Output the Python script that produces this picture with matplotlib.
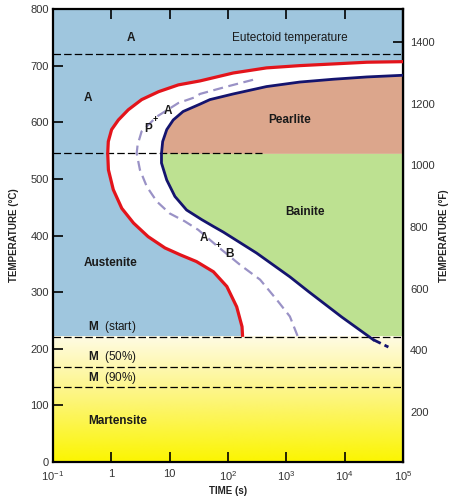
import numpy as np
import matplotlib
matplotlib.use('Agg')
import matplotlib.pyplot as plt
from matplotlib.colors import LinearSegmentedColormap
from matplotlib.ticker import FixedLocator, NullLocator

plt.rcParams['font.family'] = ['Liberation Sans', 'DejaVu Sans']
plt.rcParams['mathtext.fontset'] = 'custom'
plt.rcParams['mathtext.rm'] = 'Liberation Sans'
plt.rcParams['mathtext.bf'] = 'Liberation Sans:bold'

# === Datos (tiempo en s, temperatura en °C) ===
# curva de inicio (roja), de arriba-derecha hacia abajo
red_time = [1e5, 24000, 6460, 1700, 457, 123, 33.1, 14.1, 6.46, 3.31, 1.95,
            1.32, 1.01, 0.887, 0.867, 0.891, 1.08, 1.51, 2.40, 4.27, 8.32,
            15.1, 28.8, 56.2, 95.5, 141, 174, 178]
red_temp = [707, 706, 703, 700, 696, 687, 673, 666, 654, 640, 622,
            604, 587, 566, 545, 516, 481, 448, 422, 398, 378,
            366, 354, 336, 310, 274, 239, 221]

# curva de fin (azul marino)
navy_time = [1e5, 24000, 6460, 1700, 457, 123, 49, 33.1, 17.0, 11.5, 8.91,
             7.59, 7.24, 7.24, 8.91, 12.3, 19.5, 35.5, 56.2, 83.2, 309,
             1150, 2400, 8910, 30900, 56200]
navy_temp = [683, 680, 676, 671, 663, 650, 640, 632, 619, 604, 587,
             566, 545, 528, 498, 469, 445, 428, 416, 406, 369,
             327, 301, 256, 216, 203]

# curva 50% (lila, discontinua)
mid_time = [269, 95.5, 33.1, 26.9, 14.1, 6.03, 3.31, 2.82, 2.72, 3.09, 4.07,
            6.03, 10, 18.2, 30.9, 67.6, 162, 355, 692, 1150, 1580]
mid_temp = [675, 663, 650, 644, 634, 610, 584, 560, 545, 516, 486,
            460, 439, 425, 410, 380, 348, 322, 286, 257, 221]

eutectoid = 720
nose_temp = 545
ms_start = 221
ms_50 = 168
ms_90 = 132

x_ticks = [0.1, 1, 10, 100, 1e3, 1e4, 1e5]
x_labels = ['$10^{-1}$', '1', '10', '$10^{2}$', '$10^{3}$', '$10^{4}$', '$10^{5}$']
y_ticks = list(range(0, 801, 100))
f_ticks = [200, 400, 600, 800, 1000, 1200, 1400]
f_minor = [100, 300, 500, 700, 900, 1100, 1300]

# colores
c_blue = '#9fc6de'
c_pearl = '#dca68c'
c_bain = '#bde191'
c_red = '#e3141b'
c_navy = '#14146e'
c_mid = '#9a92c6'

fig = plt.figure(figsize=(4.51, 4.98), dpi=100)
ax = fig.add_axes([53/451, 36/498, 350/451, 453/498])
ax.set_xscale('log')
ax.set_facecolor(c_blue)

red_time = np.array(red_time); red_temp = np.array(red_temp)
navy_time = np.array(navy_time); navy_temp = np.array(navy_temp)
xmax = x_ticks[-1]

# regiones
ax.fill_betweenx(red_temp, red_time, xmax, color='white', lw=0, zorder=1)
up = navy_temp >= nose_temp
lo = navy_temp <= nose_temp
ax.fill_betweenx(navy_temp[up], navy_time[up], xmax, color=c_pearl, lw=0, zorder=1.1)
ax.fill_betweenx(navy_temp[lo], navy_time[lo], xmax, color=c_bain, lw=0, zorder=1.1)

# degradado martensita
cmap = LinearSegmentedColormap.from_list('mart', ['#fbf500', '#fdf57a', '#fffbe4'])
grad = np.linspace(0, 1, 256).reshape(-1, 1)
ax.imshow(grad, extent=[0, 1, 0, ms_start/800], transform=ax.transAxes,
          aspect='auto', origin='lower', cmap=cmap, zorder=1.5)

# curvas
ax.plot(red_time, red_temp, color=c_red, lw=2.3, zorder=4, solid_capstyle='butt',
        solid_joinstyle='round')
ax.plot(navy_time[:-1], navy_temp[:-1], color=c_navy, lw=2.0, zorder=4,
        solid_joinstyle='round')
ax.plot(navy_time[-2:], navy_temp[-2:], color=c_navy, lw=2.0, zorder=4,
        ls=(0, (3, 1.5)))
ax.plot(mid_time, mid_temp, color=c_mid, lw=1.6, ls=(0, (4.5, 2.5)), zorder=3.5)

# lineas horizontales
dash = (0, (6, 2.5))
ax.axhline(eutectoid, color='black', lw=0.9, ls=dash, zorder=3)
ax.plot([0.1, 380], [nose_temp, nose_temp], color='black', lw=0.9, ls=dash, zorder=3)
ax.axhline(ms_start, color='black', lw=0.9, ls=dash, zorder=3)
ax.axhline(ms_50, color='black', lw=0.9, ls=dash, zorder=3)
ax.axhline(ms_90, color='black', lw=0.9, ls=dash, zorder=3)

# textos
bold = dict(fontsize=8.5, fontweight='bold', color='#1a1a1a', zorder=5)
plain = dict(fontsize=8.5, color='#1a1a1a', zorder=5)
ax.text(2.2, 749, 'A', ha='center', va='center', **bold)
ax.text(1150, 749, 'Eutectoid temperature', ha='center', va='center', **plain)
ax.text(0.4, 643, 'A', ha='center', va='center', **bold)
ax.text(4.2, 588, 'P', ha='center', va='center', **bold)
ax.text(5.75, 604, '+', ha='center', va='center', fontsize=6.5, fontweight='bold', zorder=5)
ax.text(9.5, 619, 'A', ha='center', va='center', **bold)
ax.text(1150, 604, 'Pearlite', ha='center', va='center', **bold)
ax.text(2100, 442, 'Bainite', ha='center', va='center', **bold)
ax.text(39, 395, 'A', ha='center', va='center', **bold)
ax.text(68, 382, '+', ha='center', va='center', fontsize=6.5, fontweight='bold', zorder=5)
ax.text(107, 367, 'B', ha='center', va='center', **bold)
ax.text(0.33, 351, 'Austenite', ha='left', va='center', **bold)
ax.text(0.40, 239, r'$\mathbf{M}$  (start)', ha='left', va='center', **plain)
ax.text(0.40, 186, r'$\mathbf{M}$  (50%)', ha='left', va='center', **plain)
ax.text(0.40, 149, r'$\mathbf{M}$  (90%)', ha='left', va='center', **plain)
ax.text(0.40, 73, 'Martensite', ha='left', va='center', **bold)

# ejes
ax.set_xlim(0.1, 1e5)
ax.set_ylim(0, 800)
ax.set_xticks(x_ticks)
ax.set_xticklabels(x_labels)
ax.xaxis.set_minor_locator(NullLocator())
ax.set_yticks(y_ticks)
ax.tick_params(axis='both', direction='in', length=7, width=1.2, labelsize=8,
               labelcolor='#333333', top=True, pad=3)
ax.tick_params(axis='x', pad=5)
for s in ax.spines.values():
    s.set_linewidth(1.6)

c2f = lambda c: (np.asarray(c) + 21) / 0.545
f2c = lambda f: 0.545 * np.asarray(f) - 21
sec = ax.secondary_yaxis('right', functions=(c2f, f2c))
sec.set_yticks(f_ticks)
sec.yaxis.set_minor_locator(FixedLocator(f_minor))
sec.tick_params(axis='y', which='both', direction='in', length=7, width=1.2,
                labelsize=8, labelcolor='#333333', pad=5)
sec.spines['right'].set_linewidth(1.6)

lab = dict(fontsize=7, fontweight='bold', color='#222222')
ax.set_ylabel('TEMPERATURE (°C)', labelpad=8, **lab)
sec.set_ylabel('TEMPERATURE (°F)', labelpad=3, **lab)
ax.set_xlabel('TIME (s)', labelpad=2, **lab)

fig.savefig('out.png', dpi=100)
